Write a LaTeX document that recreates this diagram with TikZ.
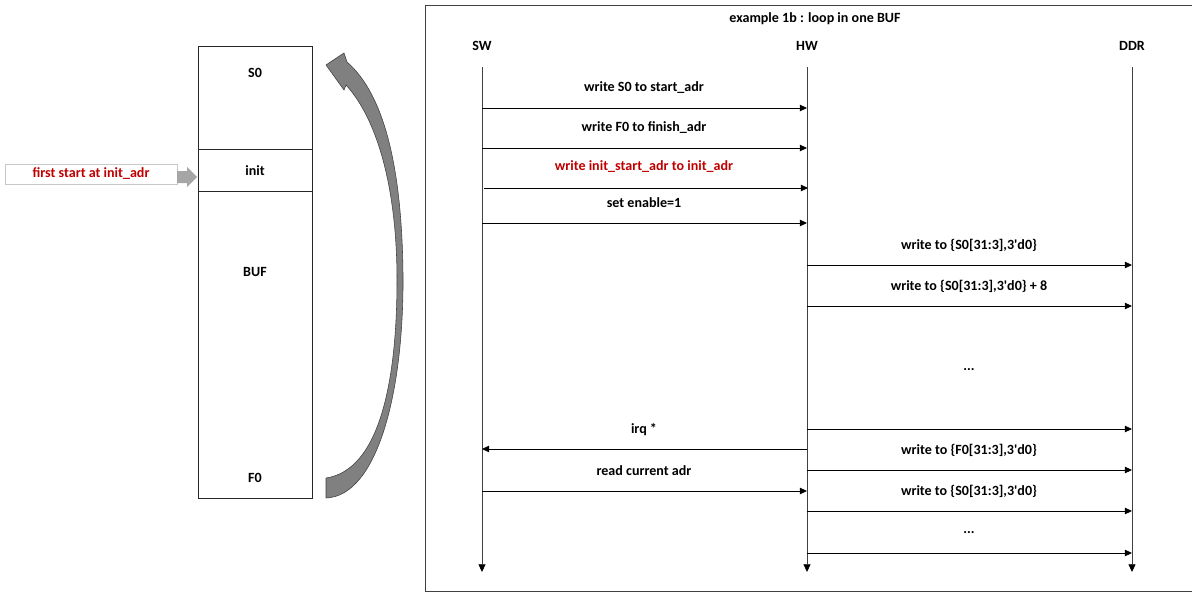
\documentclass[tikz,border=0pt]{standalone}
\usepackage{fontspec}
\setmainfont{Carlito}
\usepackage{xcolor}
\usetikzlibrary{arrows.meta, positioning}
\definecolor{LineGray}{HTML}{404040}
\definecolor{MsgRed}{HTML}{C00000}
\definecolor{LoopGray}{HTML}{808080}
\definecolor{PaleGray}{HTML}{A6A6A6}
\definecolor{BoxGray}{HTML}{C8C8C8}
\newcommand{\tq}{\textquotesingle}

\tikzset{
  lbl/.style={font=\bfseries\fontsize{10}{12}\selectfont, inner sep=0pt},
  msg/.style={draw=black, line width=0.6pt, -{Triangle[length=5pt,width=4.5pt]}},
  life/.style={draw=LineGray, line width=0.6pt, -{Triangle[length=5.5pt,width=5pt,color=black]}},
  cell/.style={draw=black!85, line width=0.6pt}
}

\begin{document}
\begin{tikzpicture}[x=0.025cm, y=-0.025cm]
  \clip (0,0) rectangle (1192,592);
  \useasboundingbox (0,0) rectangle (1192,592);

  % memory layout of the buffer
  \draw[cell] (198,46) rectangle (312,149);
  \draw[cell] (198,149) rectangle (312,191);
  \draw[cell] (198,191) rectangle (312,498);
  \node[lbl] (s0)   at (255,73)  {S0};
  \node[lbl] (init) at (255,171) {init};
  \node[lbl] (buf)  at (255,272) {BUF};
  \node[lbl] (f0)   at (255,478) {F0};

  % first start pointer
  \draw[BoxGray, line width=0.6pt] (5,164) rectangle (177,184);
  \node[lbl, text=MsgRed] (first) at (91,174) {first start at init\_adr};
  \fill[PaleGray] (177,171) -- (187,171) -- (187,167) -- (197,177)
    -- (187,187) -- (187,183) -- (177,183) -- cycle;

  % wrap around from F0 back to S0
  \filldraw[fill=LoopGray, draw=LineGray, line width=0.4pt]
    (326,498) .. controls (378,496) and (404,390) .. (403,275)
    .. controls (402,170) and (385,95) .. (347,62)
    -- (344,53) -- (326,65) -- (344,90) -- (346,85)
    .. controls (378,120) and (397,190) .. (397,280)
    .. controls (397,380) and (380,470) .. (326,478) -- cycle;

  % sequence frame
  \draw[LineGray, line width=0.6pt] (425,5) rectangle (1210,591);
  \node[lbl] (title) at (815,19) {example 1b : loop in one BUF};

  \node[lbl] (swlbl)  at (482,46)  {SW};
  \node[lbl] (hwlbl)  at (807,46)  {HW};
  \node[lbl] (ddrlbl) at (1132,46) {DDR};

  \coordinate (sw)     at (482,67);
  \coordinate (hw)     at (807,67);
  \coordinate (ddr)    at (1132,67);
  \coordinate (swend)  at (482,572);
  \coordinate (hwend)  at (807,572);
  \coordinate (ddrend) at (1132,572);
  \draw[life] (sw) -- (swend);
  \draw[life] (hw) -- (hwend);
  \draw[life] (ddr) -- (ddrend);

  % SW -> HW
  \foreach \y/\txt [count=\i] in {108/{write S0 to start\_adr},
      148/{write F0 to finish\_adr}, 223/{set enable=1},
      491/{read current adr}} {
    \coordinate (sh\i a) at (482,\y);
    \coordinate (sh\i b) at (807,\y);
    \draw[msg] (sh\i a) -- (sh\i b);
    \node[lbl] (shl\i) at (644,\y-20) {\txt};
  }
  \coordinate (inita) at (484,188);
  \coordinate (initb) at (808,188);
  \draw[msg] (inita) -- (initb);
  \node[lbl, text=MsgRed] (initl) at (644,167) {write init\_start\_adr to init\_adr};

  % HW -> SW
  \coordinate (irqa) at (807,449);
  \coordinate (irqb) at (482,449);
  \draw[msg] (irqa) -- (irqb);
  \node[lbl] (irql) at (644,430) {irq *};

  % HW -> DDR
  \foreach \y/\txt [count=\i] in {265/{write to \{S0[31:3],3\tq d0\}},
      306/{write to \{S0[31:3],3\tq d0\} + 8}, 429/{},
      470/{write to \{F0[31:3],3\tq d0\}}, 511/{write to \{S0[31:3],3\tq d0\}},
      553/{...}} {
    \coordinate (hd\i a) at (807,\y);
    \coordinate (hd\i b) at (1132,\y);
    \draw[msg] (hd\i a) -- (hd\i b);
    \node[lbl] (hdl\i) at (969,\y-20) {\txt};
  }
  \node[lbl] (dots) at (969,370) {...};
\end{tikzpicture}
\end{document}
